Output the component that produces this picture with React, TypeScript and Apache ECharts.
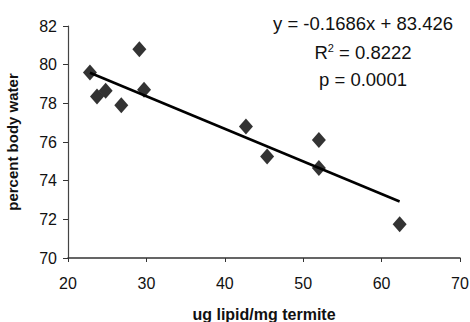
import React, { useEffect, useRef } from "react";
import * as echarts from "echarts";

const lipid = [22.8, 23.7, 24.8, 26.8, 29.1, 29.7, 42.7, 45.4, 52.0, 52.0, 62.3];
const water = [79.6, 78.35, 78.65, 77.9, 80.8, 78.7, 76.8, 75.25, 76.1, 74.65, 71.75];
const slope = -0.1686;
const intercept = 83.426;
const trendX = [22.8, 62.3];
const xTicks = [20, 30, 40, 50, 60, 70];
const yTicks = [70, 72, 74, 76, 78, 80, 82];

export default function App() {
  const ref = useRef<HTMLDivElement>(null);
  useEffect(() => {
    if (!ref.current) return;
    const chart = echarts.init(ref.current, null, { renderer: "svg" });
    const font = "Liberation Sans, Arial, sans-serif";
    const annot = 18.5;
    chart.setOption({
      animation: false,
      backgroundColor: "#fff",
      grid: { left: 68, right: 10, top: 26, bottom: 64, containLabel: false, outerBoundsMode: "none" },
      xAxis: {
        type: "value",
        min: xTicks[0],
        max: xTicks[xTicks.length - 1],
        interval: 10,
        name: "ug lipid/mg termite",
        nameLocation: "middle",
        nameGap: 48,
        nameTextStyle: { fontFamily: font, fontSize: 16, fontWeight: "bold", color: "#111", lineHeight: 16 },
        axisLine: { lineStyle: { color: "#333", width: 1.5 } },
        axisTick: { show: true, length: 4, inside: false, lineStyle: { color: "#333" } },
        axisLabel: { fontFamily: font, fontSize: 16, color: "#111", margin: 17 },
        splitLine: { show: false },
      },
      yAxis: {
        type: "value",
        min: yTicks[0],
        max: yTicks[yTicks.length - 1],
        interval: 2,
        name: "percent body water",
        nameLocation: "middle",
        nameGap: 48,
        nameTextStyle: { fontFamily: font, fontSize: 15, fontWeight: "bold", color: "#111" },
        axisLine: { show: true, lineStyle: { color: "#444", width: 1.2 } },
        axisTick: { show: true, length: 5, inside: false, lineStyle: { color: "#333" } },
        axisLabel: { fontFamily: font, fontSize: 16, color: "#111", margin: 11 },
        splitLine: { show: false },
      },
      series: [
        {
          type: "line",
          data: trendX.map((x) => [x, slope * x + intercept]),
          symbol: "none",
          lineStyle: { color: "#000", width: 2.5 },
          z: 1,
        },
        {
          type: "scatter",
          data: lipid.map((x, i) => [x, water[i]]),
          symbol: "diamond",
          symbolSize: [14, 16],
          itemStyle: { color: "#000" },
          z: 2,
        },
      ],
      graphic: [
        {
          type: "group",
          x: 363,
          y: 0,
          children: [
            {
              type: "text",
              x: 0,
              y: 23,
              style: {
                text: "y = -0.1686x + 83.426",
                fontFamily: font,
                fontSize: annot,
                fill: "#111",
                align: "center",
                verticalAlign: "middle",
              },
            },
            {
              type: "text",
              x: 0,
              y: 52,
              style: {
                text: "{a|R}{s|2}{a| = 0.8222}",
                fontFamily: font,
                fontSize: annot,
                fill: "#111",
                align: "center",
                verticalAlign: "middle",
                rich: {
                  a: { fontFamily: font, fontSize: annot, fill: "#111" },
                  s: { fontFamily: font, fontSize: 11, fill: "#111", verticalAlign: "top", padding: [0, 0, 9, 0] },
                },
              },
            },
            {
              type: "text",
              x: 0,
              y: 79,
              style: {
                text: "p = 0.0001",
                fontFamily: font,
                fontSize: annot,
                fill: "#111",
                align: "center",
                verticalAlign: "middle",
              },
            },
          ],
        },
      ],
    });
    return () => chart.dispose();
  }, []);
  return <div ref={ref} style={{ width: 470, height: 322, position: "absolute", left: 0, top: 0 }} />;
}
